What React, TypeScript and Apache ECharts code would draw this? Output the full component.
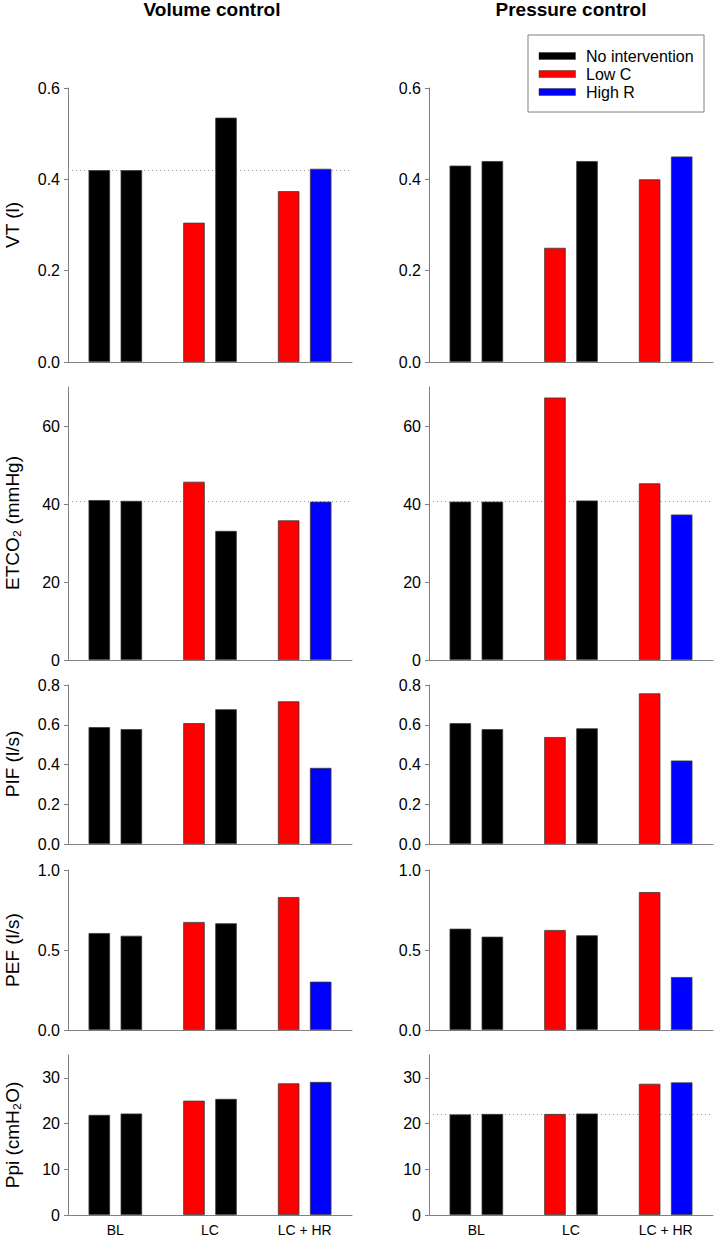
import React, { useEffect, useRef } from 'react';
import * as echarts from 'echarts';

const categories = ['BL', 'LC', 'LC + HR'];
const legendLabels = ['No intervention', 'Low C', 'High R'];
const legendColors = ['#000000', '#ff0000', '#0000ff'];
const firstBarColors = ['#000000', '#ff0000', '#ff0000'];
const secondBarColors = ['#000000', '#000000', '#0000ff'];
const columnTitles = ['Volume control', 'Pressure control'];
const rowNames = ['VT (l)', 'ETCO₂ (mmHg)', 'PIF (l/s)', 'PEF (l/s)', 'Ppi (cmH₂O)'];
const rowMax = [0.6, 70, 0.8, 1.0, 35];
const rowTicks = [
  [0, 0.2, 0.4, 0.6],
  [0, 20, 40, 60],
  [0, 0.2, 0.4, 0.6, 0.8],
  [0, 0.5, 1.0],
  [0, 10, 20, 30],
];
const rowDecimals = [1, 0, 1, 1, 0];

// Volume control
const volumeVTFirst = [0.42, 0.305, 0.374];
const volumeVTSecond = [0.42, 0.535, 0.423];
const volumeETCO2First = [41.0, 45.7, 35.8];
const volumeETCO2Second = [40.8, 33.1, 40.6];
const volumePIFFirst = [0.588, 0.608, 0.718];
const volumePIFSecond = [0.578, 0.678, 0.383];
const volumePEFFirst = [0.606, 0.675, 0.831];
const volumePEFSecond = [0.589, 0.667, 0.302];
const volumePpiFirst = [21.9, 25.0, 28.8];
const volumePpiSecond = [22.2, 25.4, 29.1];

// Pressure control
const pressureVTFirst = [0.43, 0.25, 0.40];
const pressureVTSecond = [0.44, 0.44, 0.45];
const pressureETCO2First = [40.6, 67.3, 45.3];
const pressureETCO2Second = [40.6, 40.9, 37.3];
const pressurePIFFirst = [0.608, 0.538, 0.758];
const pressurePIFSecond = [0.578, 0.582, 0.42];
const pressurePEFFirst = [0.633, 0.625, 0.862];
const pressurePEFSecond = [0.583, 0.592, 0.331];
const pressurePpiFirst = [22.0, 22.1, 28.7];
const pressurePpiSecond = [22.1, 22.2, 29.0];

// Baseline reference (dotted) lines
const volumeRefLines = [0.42, 40.8, null, null, null];
const pressureRefLines = [null, 40.8, null, null, 22.0];

const FONT = 'Arial, "Liberation Sans", Helvetica, sans-serif';

export default function App() {
  const ref = useRef<HTMLDivElement>(null);

  useEffect(() => {
    if (!ref.current) return;
    const chart = echarts.init(ref.current, null, { renderer: 'svg' });

    const columns = [
      {
        first: [volumeVTFirst, volumeETCO2First, volumePIFFirst, volumePEFFirst, volumePpiFirst],
        second: [volumeVTSecond, volumeETCO2Second, volumePIFSecond, volumePEFSecond, volumePpiSecond],
        refs: volumeRefLines,
      },
      {
        first: [pressureVTFirst, pressureETCO2First, pressurePIFFirst, pressurePEFFirst, pressurePpiFirst],
        second: [pressureVTSecond, pressureETCO2Second, pressurePIFSecond, pressurePEFSecond, pressurePpiSecond],
        refs: pressureRefLines,
      },
    ];

    const rowTop = [88, 387, 685, 870, 1055];
    const rowHeight = [274, 273, 159, 160, 160];
    const colLeft = [68, 429];
    const colWidth = 284;
    const axisGray = '#808080';

    const grids: any[] = [];
    const xAxes: any[] = [];
    const yAxes: any[] = [];
    const series: any[] = [];

    let gi = 0;
    for (let c = 0; c < 2; c++) {
      for (let r = 0; r < 5; r++) {
        grids.push({ left: colLeft[c], top: rowTop[r], width: colWidth, height: rowHeight[r] });
        xAxes.push({
          type: 'category',
          gridIndex: gi,
          data: categories,
          axisLine: { show: true, lineStyle: { color: axisGray, width: 1 } },
          axisTick: { show: false },
          axisLabel: { show: r === 4, fontSize: 14, color: '#000', fontFamily: FONT, margin: 8 },
        });
        const dec = rowDecimals[r];
        yAxes.push({
          type: 'value',
          gridIndex: gi,
          min: 0,
          max: rowMax[r],
          splitLine: { show: false },
          axisLine: { show: true, lineStyle: { color: axisGray, width: 1 } },
          axisTick: { show: true, length: 4, lineStyle: { color: axisGray }, customValues: rowTicks[r] },
          axisLabel: {
            fontSize: 16,
            color: '#000',
            fontFamily: FONT,
            margin: 8,
            customValues: rowTicks[r],
            formatter: (v: number) => v.toFixed(dec),
          },
        });
        const col = columns[c];
        const refVal = col.refs[r];
        series.push({
          type: 'bar',
          xAxisIndex: gi,
          yAxisIndex: gi,
          barWidth: 21.5,
          barGap: '49%',
          z: 2,
          data: col.first[r].map((v, i) => ({ value: v, itemStyle: { color: firstBarColors[i] } })),
          itemStyle: { borderColor: '#3a3a3a', borderWidth: 0.8 },
          emphasis: { disabled: true },
          markLine: refVal == null ? undefined : {
            silent: true,
            z: 1,
            symbol: ['none', 'none'],
            label: { show: false },
            lineStyle: { type: [1, 3], color: '#999', width: 1 },
            data: [{ yAxis: refVal }],
          },
        });
        series.push({
          type: 'bar',
          xAxisIndex: gi,
          yAxisIndex: gi,
          barWidth: 21.5,
          barGap: '49%',
          z: 2,
          data: col.second[r].map((v, i) => ({ value: v, itemStyle: { color: secondBarColors[i] } })),
          itemStyle: { borderColor: '#3a3a3a', borderWidth: 0.8 },
          emphasis: { disabled: true },
        });
        gi++;
      }
    }

    const graphic: any[] = [];
    const titleX = [212, 571];
    columnTitles.forEach((t, i) => {
      graphic.push({
        type: 'text',
        x: titleX[i],
        y: 9,
        style: {
          text: t,
          font: `bold 19px ${FONT}`,
          fill: '#000',
          textAlign: 'center',
          textVerticalAlign: 'middle',
        },
      });
    });
    const nameY = [225, 523, 764, 950, 1135];
    rowNames.forEach((n, i) => {
      graphic.push({
        type: 'text',
        x: 12,
        y: nameY[i],
        rotation: Math.PI / 2,
        style: {
          text: n,
          font: `19px ${FONT}`,
          fill: '#000',
          textAlign: 'center',
          textVerticalAlign: 'middle',
        },
      });
    });
    // Legend box
    graphic.push({
      type: 'rect',
      shape: { x: 528, y: 35, width: 176, height: 77 },
      style: { fill: '#fff', stroke: '#808080', lineWidth: 1 },
      z: 10,
    });
    const legendRowY = [56, 74, 92];
    legendLabels.forEach((l, i) => {
      graphic.push({
        type: 'rect',
        shape: { x: 539, y: legendRowY[i] - 3.5, width: 36.5, height: 7 },
        style: { fill: legendColors[i], stroke: '#3a3a3a', lineWidth: 0.5 },
        z: 11,
      });
      graphic.push({
        type: 'text',
        x: 586,
        y: legendRowY[i],
        style: {
          text: l,
          font: `16px ${FONT}`,
          fill: '#000',
          textAlign: 'left',
          textVerticalAlign: 'middle',
        },
        z: 11,
      });
    });

    chart.setOption({
      animation: false,
      backgroundColor: '#ffffff',
      grid: grids,
      xAxis: xAxes,
      yAxis: yAxes,
      series,
      graphic,
    });

    return () => chart.dispose();
  }, []);

  return (
    <div
      ref={ref}
      style={{ position: 'absolute', left: 0, top: 0, width: 714, height: 1238 }}
    />
  );
}
